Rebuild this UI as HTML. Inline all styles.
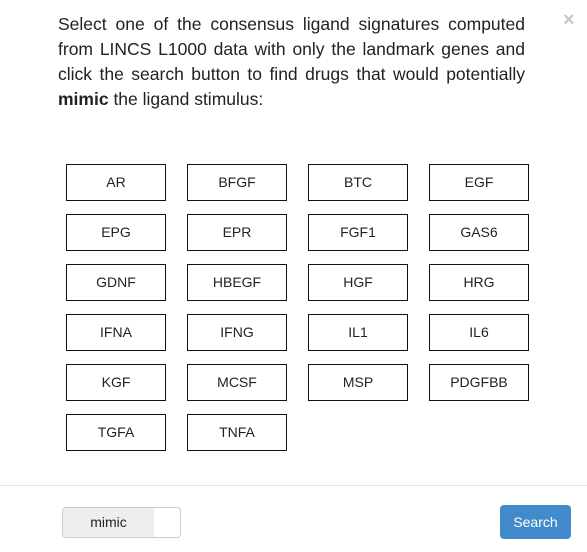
<!DOCTYPE html>
<html><head><style>
body{margin:0;width:587px;height:552px;background:#fff;font-family:"Liberation Sans",sans-serif;position:relative;overflow:hidden;color:#333}
.p{position:absolute;left:58px;top:12px;width:467px;font-size:17.5px;line-height:25px;text-align:justify;color:#222}
.x{position:absolute;left:563px;top:9px;font-size:20px;color:#c8c8c8;font-weight:bold}
.b{position:absolute;width:98px;height:35px;border:1px solid #111;font-size:14px;line-height:35px;text-align:center;color:#222}
.hr{position:absolute;left:0;top:485px;width:587px;height:1px;background:#e5e5e5}
.t{position:absolute;left:62px;top:507px;width:117px;height:29px;border:1px solid #ccc;border-radius:4px;overflow:hidden;background:#fff}
.t div{width:91px;height:29px;background:#eee;font-size:14px;line-height:29px;text-align:center;color:#222}
.s{position:absolute;left:500px;top:505px;width:71px;height:34px;background:#428bca;border-radius:4px;color:#fff;font-size:14px;line-height:34px;text-align:center}
</style></head><body>
<div class="x">×</div>
<div class="p">Select one of the consensus ligand signatures computed from LINCS L1000 data with only the landmark genes and click the search button to find drugs that would potentially <b>mimic</b> the ligand stimulus:</div>
<div class="b" style="left:66px;top:164px">AR</div><div class="b" style="left:187px;top:164px">BFGF</div><div class="b" style="left:308px;top:164px">BTC</div><div class="b" style="left:429px;top:164px">EGF</div>
<div class="b" style="left:66px;top:214px">EPG</div><div class="b" style="left:187px;top:214px">EPR</div><div class="b" style="left:308px;top:214px">FGF1</div><div class="b" style="left:429px;top:214px">GAS6</div>
<div class="b" style="left:66px;top:264px">GDNF</div><div class="b" style="left:187px;top:264px">HBEGF</div><div class="b" style="left:308px;top:264px">HGF</div><div class="b" style="left:429px;top:264px">HRG</div>
<div class="b" style="left:66px;top:314px">IFNA</div><div class="b" style="left:187px;top:314px">IFNG</div><div class="b" style="left:308px;top:314px">IL1</div><div class="b" style="left:429px;top:314px">IL6</div>
<div class="b" style="left:66px;top:364px">KGF</div><div class="b" style="left:187px;top:364px">MCSF</div><div class="b" style="left:308px;top:364px">MSP</div><div class="b" style="left:429px;top:364px">PDGFBB</div>
<div class="b" style="left:66px;top:414px">TGFA</div><div class="b" style="left:187px;top:414px">TNFA</div>
<div class="hr"></div>
<div class="t"><div>mimic</div></div>
<div class="s">Search</div>
</body></html>
